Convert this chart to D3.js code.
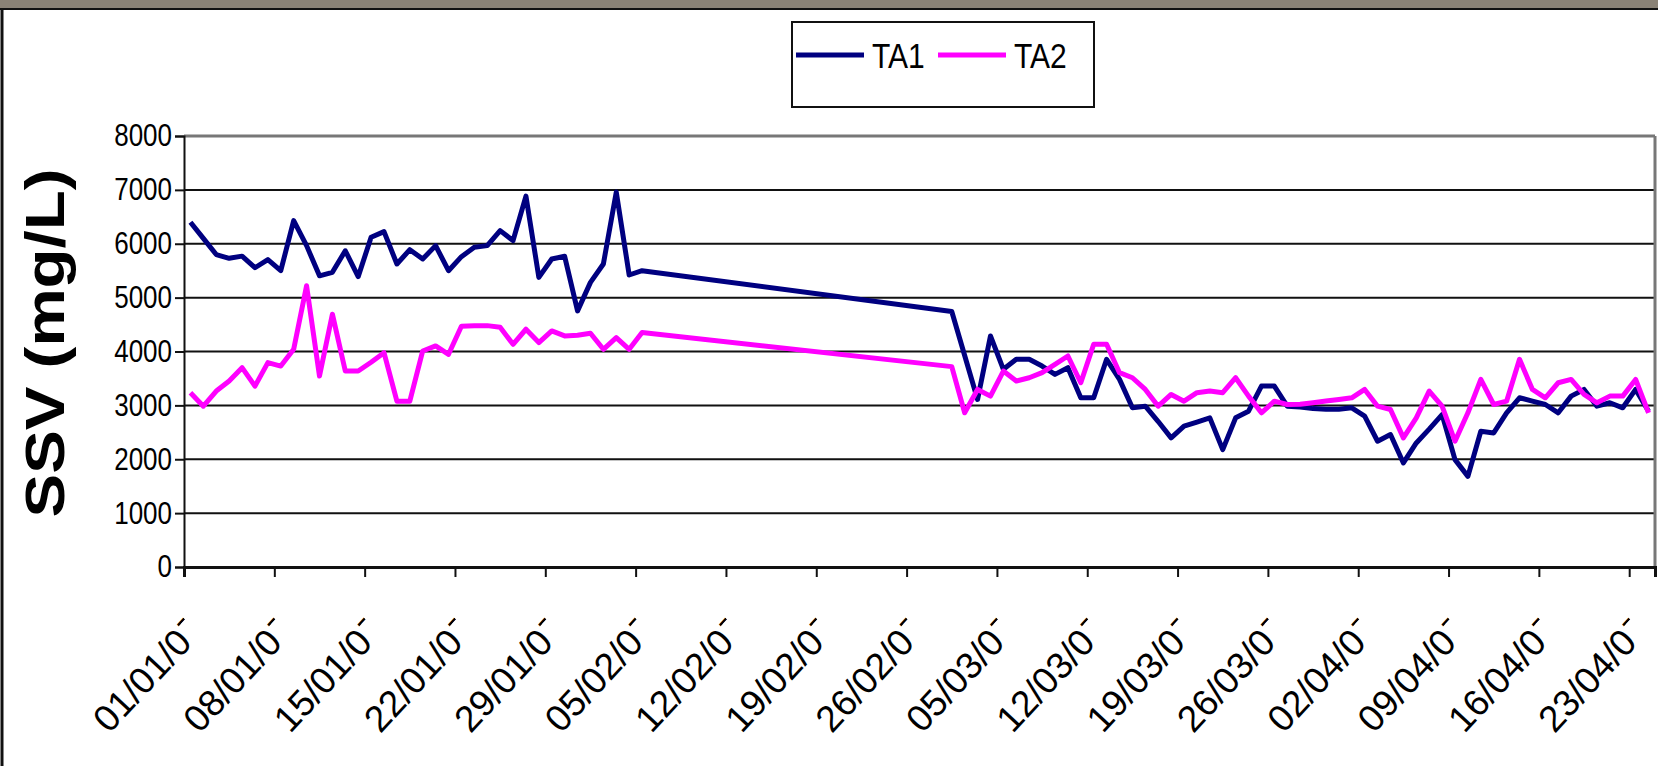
<!DOCTYPE html>
<html lang="fr">
<head>
<meta charset="UTF-8">
<title>SSV TA1 / TA2</title>
<script src="https://cdn.jsdelivr.net/npm/d3@7"></script>
<style>
  body { margin: 0; background: #fff; }
  svg { display: block; }
</style>
</head>
<body>
<div id="container"></div>
<script>
// TA1 : dates (jj/mm, 2005) et SSV en mg/L
const ta1Dates = ["01/01","02/01","03/01","04/01","05/01","06/01","07/01","08/01","09/01","10/01",
  "11/01","12/01","13/01","14/01","15/01","16/01","17/01","18/01","19/01","20/01",
  "21/01","22/01","23/01","24/01","25/01","26/01","27/01","28/01","29/01","30/01",
  "31/01","01/02","02/02","03/02","04/02","05/02","01/03","03/03","04/03","05/03",
  "06/03","07/03","08/03","09/03","10/03","11/03","12/03","13/03","14/03","15/03",
  "16/03","17/03","18/03","19/03","20/03","21/03","22/03","23/03","24/03","25/03",
  "26/03","27/03","28/03","29/03","30/03","31/03","01/04","02/04","03/04","04/04",
  "05/04","06/04","07/04","08/04","09/04","10/04","11/04","12/04","13/04","14/04",
  "15/04","16/04","17/04","18/04","19/04","20/04","21/04","22/04","23/04","24/04"];
const ta1Values = [6400,6100,5800,5730,5770,5555,5705,5500,6430,5965,
  5405,5470,5870,5390,6120,6225,5625,5890,5717,5965,
  5500,5760,5935,5965,6244,6058,6885,5376,5717,5767,
  4754,5283,5624,6959,5420,5500,4743,3110,4289,3669,
  3855,3855,3730,3575,3700,3141,3141,3855,3482,2955,
  2985,2700,2397,2613,2690,2769,2179,2769,2892,3358,
  3358,2985,2970,2940,2930,2930,2955,2800,2334,2458,
  1931,2303,2560,2830,1993,1682,2520,2489,2862,3141,
  3080,3016,2862,3172,3296,2985,3048,2955,3296,2892];

// TA2
const ta2Dates = ["01/01","02/01","03/01","04/01","05/01","06/01","07/01","08/01","09/01","10/01",
  "11/01","12/01","13/01","14/01","15/01","16/01","17/01","18/01","19/01","20/01",
  "21/01","22/01","23/01","24/01","25/01","26/01","27/01","28/01","29/01","30/01",
  "31/01","01/02","02/02","03/02","04/02","05/02","01/03","02/03","03/03","04/03",
  "05/03","06/03","07/03","08/03","09/03","10/03","11/03","12/03","13/03","14/03",
  "15/03","16/03","17/03","18/03","19/03","20/03","21/03","22/03","23/03","24/03",
  "25/03","26/03","27/03","28/03","29/03","30/03","31/03","01/04","02/04","03/04",
  "04/04","05/04","06/04","07/04","08/04","09/04","10/04","11/04","12/04","13/04",
  "14/04","15/04","16/04","17/04","18/04","19/04","20/04","21/04","22/04","23/04","24/04"];
const ta2Values = [3235,2985,3265,3451,3700,3358,3793,3730,4041,5220,
  3544,4693,3637,3637,3800,3979,3078,3078,4010,4103,
  3948,4470,4480,4480,4450,4134,4413,4166,4382,4289,
  4300,4339,4041,4258,4041,4351,3719,2862,3296,3172,
  3637,3451,3513,3607,3760,3917,3420,4134,4134,3607,
  3513,3296,2985,3203,3078,3235,3265,3235,3513,3172,
  2862,3078,3016,3020,3050,3080,3110,3141,3296,2985,
  2923,2397,2769,3265,2985,2334,2862,3482,3016,3078,
  3855,3296,3141,3420,3482,3203,3048,3172,3172,3482,2862];

const seriesNames = ["TA1", "TA2"];
const seriesColors = ["#000080", "#ff00ff"];
const yTicks = [0,1000,2000,3000,4000,5000,6000,7000,8000];
const xTickLabels = ["01/01/05","08/01/05","15/01/05","22/01/05","29/01/05","05/02/05",
  "12/02/05","19/02/05","26/02/05","05/03/05","12/03/05","19/03/05","26/03/05",
  "02/04/05","09/04/05","16/04/05","23/04/05"];
const axisStart = "01/01/05", axisEnd = "25/04/05";
const yTitle = "SSV (mg/L)";

const W = 1658, H = 766;
const margin = {left: 184, right: 3, top: 136, bottom: 199};
const stretch = 1.19;   // l'image d'origine est étirée verticalement
const font = "'Liberation Sans', Arial, sans-serif";

const parse = d3.timeParse("%d/%m/%y");
const atNoon = s => d3.timeHour.offset(parse(s.length === 5 ? s + "/05" : s), 12);

const x = d3.scaleTime()
  .domain([parse(axisStart), parse(axisEnd)])
  .range([margin.left, W - margin.right]);
const y = d3.scaleLinear()
  .domain([0, 8000])
  .range([H - margin.bottom, margin.top]);

const series = [
  {name: seriesNames[0], color: seriesColors[0],
    points: ta1Dates.map((d, i) => ({date: atNoon(d), value: ta1Values[i]}))},
  {name: seriesNames[1], color: seriesColors[1],
    points: ta2Dates.map((d, i) => ({date: atNoon(d), value: ta2Values[i]}))}
];

const svg = d3.select("#container").append("svg")
  .attr("width", W).attr("height", H)
  .attr("font-family", font);

// fond et cadre de l'image
svg.append("rect").attr("width", W).attr("height", H).attr("fill", "#fff");
svg.append("rect").attr("width", W).attr("height", 8).attr("fill", "#8a8276");
svg.append("line").attr("x1", 0).attr("x2", W).attr("y1", 9).attr("y2", 9)
  .attr("stroke", "#111").attr("stroke-width", 2);
svg.append("line").attr("x1", 2).attr("x2", 2).attr("y1", 9).attr("y2", H)
  .attr("stroke", "#111").attr("stroke-width", 3);

// grille horizontale
svg.append("g")
  .selectAll("line")
  .data(yTicks.filter(v => v > 0))
  .join("line")
  .attr("x1", margin.left).attr("x2", W - margin.right)
  .attr("y1", d => y(d)).attr("y2", d => y(d))
  .attr("stroke", d => d === 8000 ? "#777" : "#111")
  .attr("stroke-width", d => d === 8000 ? 3 : 2);

// bord droit de la zone de tracé
svg.append("line")
  .attr("x1", W - margin.right).attr("x2", W - margin.right)
  .attr("y1", margin.top).attr("y2", H - margin.bottom)
  .attr("stroke", "#777").attr("stroke-width", 3);

// axe Y
const yAxis = svg.append("g")
  .attr("transform", `translate(${margin.left},0)`)
  .call(d3.axisLeft(y).tickValues(yTicks).tickSize(9).tickPadding(3).tickFormat(d3.format("d")));
yAxis.select(".domain").attr("stroke", "#111").attr("stroke-width", 2);
yAxis.selectAll(".tick line").attr("stroke", "#111").attr("stroke-width", 2);
yAxis.selectAll(".tick text")
  .attr("font-size", 26).attr("fill", "#000").attr("font-family", font)
  .attr("transform", `scale(1,${stretch})`);

// axe X
const xTickDates = xTickLabels.map(s => parse(s));
const xAxis = svg.append("g")
  .attr("transform", `translate(0,${H - margin.bottom})`)
  .call(d3.axisBottom(x).tickValues(xTickDates).tickSize(10).tickFormat(() => ""));
xAxis.select(".domain").attr("stroke", "#111").attr("stroke-width", 3);
xAxis.selectAll(".tick line").attr("stroke", "#111").attr("stroke-width", 2);

// étiquettes en biais, dernier chiffre tronqué comme dans l'original
const labelSize = 37;
const digitW = 0.556 * labelSize;
const defs = svg.append("defs");
const clip = defs.append("clipPath").attr("id", "cut-label")
  .attr("clipPathUnits", "userSpaceOnUse");
clip.append("rect").attr("x", -1000).attr("y", -100).attr("width", 1000 - digitW).attr("height", 200);
clip.append("rect").attr("x", -digitW).attr("y", -0.74 * labelSize)
  .attr("width", digitW * 0.6).attr("height", 0.12 * labelSize);

xAxis.selectAll(".tick")
  .append("g")
  .attr("transform", "translate(23,62) rotate(-47)")
  .append("text")
  .attr("text-anchor", "end")
  .attr("font-size", labelSize)
  .attr("fill", "#000")
  .attr("clip-path", "url(#cut-label)")
  .text((d, i) => xTickLabels[i]);

// courbes
const line = d3.line().x(d => x(d.date)).y(d => y(d.value));
svg.append("g")
  .selectAll("path")
  .data(series)
  .join("path")
  .attr("fill", "none")
  .attr("stroke", d => d.color)
  .attr("stroke-width", 5)
  .attr("stroke-linejoin", "round")
  .attr("d", d => line(d.points));

// titre de l'axe Y
svg.append("text")
  .attr("transform", `translate(64,343) scale(1,${stretch}) rotate(-90)`)
  .attr("text-anchor", "middle")
  .attr("font-size", 55)
  .attr("font-weight", "bold")
  .attr("fill", "#000")
  .text(yTitle);

// légende
const legend = svg.append("g").attr("transform", "translate(792,22)");
legend.append("rect")
  .attr("width", 302).attr("height", 85)
  .attr("fill", "#fff").attr("stroke", "#111").attr("stroke-width", 2);
const items = legend.selectAll("g.item")
  .data(series)
  .join("g")
  .attr("class", "item")
  .attr("transform", (d, i) => `translate(${4 + i * 142},33)`);
items.append("line")
  .attr("x1", 0).attr("x2", 68)
  .attr("stroke", d => d.color).attr("stroke-width", 5);
items.append("text")
  .attr("x", 76).attr("y", 0)
  .attr("transform", `scale(1,${stretch})`)
  .attr("dy", "0.36em")
  .attr("font-size", 30)
  .attr("fill", "#000")
  .text(d => d.name);
</script>
</body>
</html>
